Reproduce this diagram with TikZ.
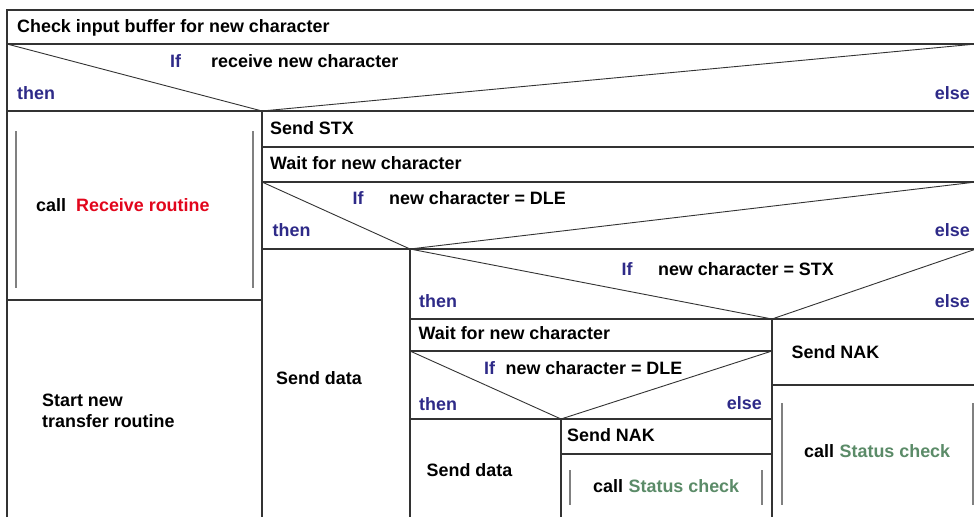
\documentclass[tikz,border=0pt]{standalone}
\usepackage{fontspec}
\setmainfont{Liberation Sans}
\definecolor{kw}{HTML}{2E2A88}
\definecolor{rred}{HTML}{E2061C}
\definecolor{sgreen}{HTML}{5B8B68}
\definecolor{ln}{HTML}{333333}
\definecolor{gl}{HTML}{808080}
\tikzset{
  txt/.style={anchor=base west, inner sep=0pt, font=\fontsize{17.9}{20}\selectfont\bfseries, text=black},
  kwr/.style={txt, text=kw},
  kwl/.style={anchor=base east, inner sep=0pt, font=\fontsize{17.9}{20}\selectfont\bfseries, text=kw},
  frame/.style={draw=ln, line width=1.2pt},
  diag/.style={draw=ln, line width=0.9pt},
  callbar/.style={draw=gl, line width=1.4pt}
}
\begin{document}
\begin{tikzpicture}[x=1pt,y=-1pt]
\useasboundingbox (0,0) rectangle (974,517);
\clip (0,0) rectangle (974,517);
\fill[white] (0,0) rectangle (974,517);
% outer frame
\draw[frame] (7,517) -- (7,10) -- (976,10);
\draw[frame] (7,44) -- (976,44);
\draw[frame] (7,111) -- (976,111);
% first if
\draw[diag] (7,44) -- (262,111) -- (976,44);
% left column
\draw[frame] (262,111) -- (262,517);
\draw[frame] (7,300) -- (262,300);
\draw[callbar] (16,131) -- (16,288);
\draw[callbar] (253,131) -- (253,288);
% right column rows
\draw[frame] (262,147) -- (976,147);
\draw[frame] (262,182) -- (976,182);
\draw[frame] (262,249) -- (976,249);
\draw[diag] (262,182) -- (410,249) -- (976,182);
% send data column
\draw[frame] (410,249) -- (410,517);
% STX if
\draw[diag] (410,249) -- (772,319) -- (976,249);
\draw[frame] (410,319) -- (976,319);
\draw[frame] (772,319) -- (772,517);
% left branch
\draw[frame] (410,351) -- (772,351);
\draw[diag] (410,351) -- (561,419) -- (772,351);
\draw[frame] (410,419) -- (772,419);
\draw[frame] (561,419) -- (561,517);
\draw[frame] (561,454) -- (772,454);
\draw[callbar] (570,470) -- (570,505);
\draw[callbar] (762,470) -- (762,505);
% right branch
\draw[frame] (772,385) -- (976,385);
\draw[callbar] (782,403) -- (782,505);
\draw[callbar] (973,403) -- (973,505);
% texts
\node[txt] (t1) at (17,32.5) {Check input buffer for new character};
\node[kwr] (if1) at (170,67.5) {If};
\node[txt] (c1) at (211,67.5) {receive new character};
\node[kwr] (then1) at (17,99) {then};
\node[kwl] (else1) at (970,99) {else};
\node[txt] (call1) at (36,211) {call};
\node[txt, text=rred] (rr) at (76,211) {Receive routine};
\node[txt] (st1) at (42,406.5) {Start new};
\node[txt] (st2) at (42,427.5) {transfer routine};
\node[txt] (stx) at (270,134) {Send STX};
\node[txt] (w1) at (270,169.5) {Wait for new character};
\node[kwr] (if2) at (352.5,204) {If};
\node[txt] (c2) at (389,204) {new character = DLE};
\node[kwr] (then2) at (272.5,236) {then};
\node[kwl] (else2) at (970,236.5) {else};
\node[txt] (sd1) at (276,384) {Send data};
\node[kwr] (if3) at (621.5,275.3) {If};
\node[txt] (c3) at (658,275.3) {new character = STX};
\node[kwr] (then3) at (419,307.3) {then};
\node[kwl] (else3) at (970,307.3) {else};
\node[txt] (w2) at (418.5,339.3) {Wait for new character};
\node[kwr] (if4) at (484,374) {If};
\node[txt] (c4) at (505.5,374) {new character = DLE};
\node[kwr] (then4) at (419,410) {then};
\node[kwl] (else4) at (762,409.5) {else};
\node[txt] (sd2) at (426.5,476.7) {Send data};
\node[txt] (nak1) at (567,441) {Send NAK};
\node[txt] (call2) at (593,492.3) {call};
\node[txt, text=sgreen] (sc1) at (628.5,492.3) {Status check};
\node[txt] (nak2) at (791.5,358) {Send NAK};
\node[txt] (call3) at (804,457.7) {call};
\node[txt, text=sgreen] (sc2) at (839.5,457.7) {Status check};
\end{tikzpicture}
\end{document}
